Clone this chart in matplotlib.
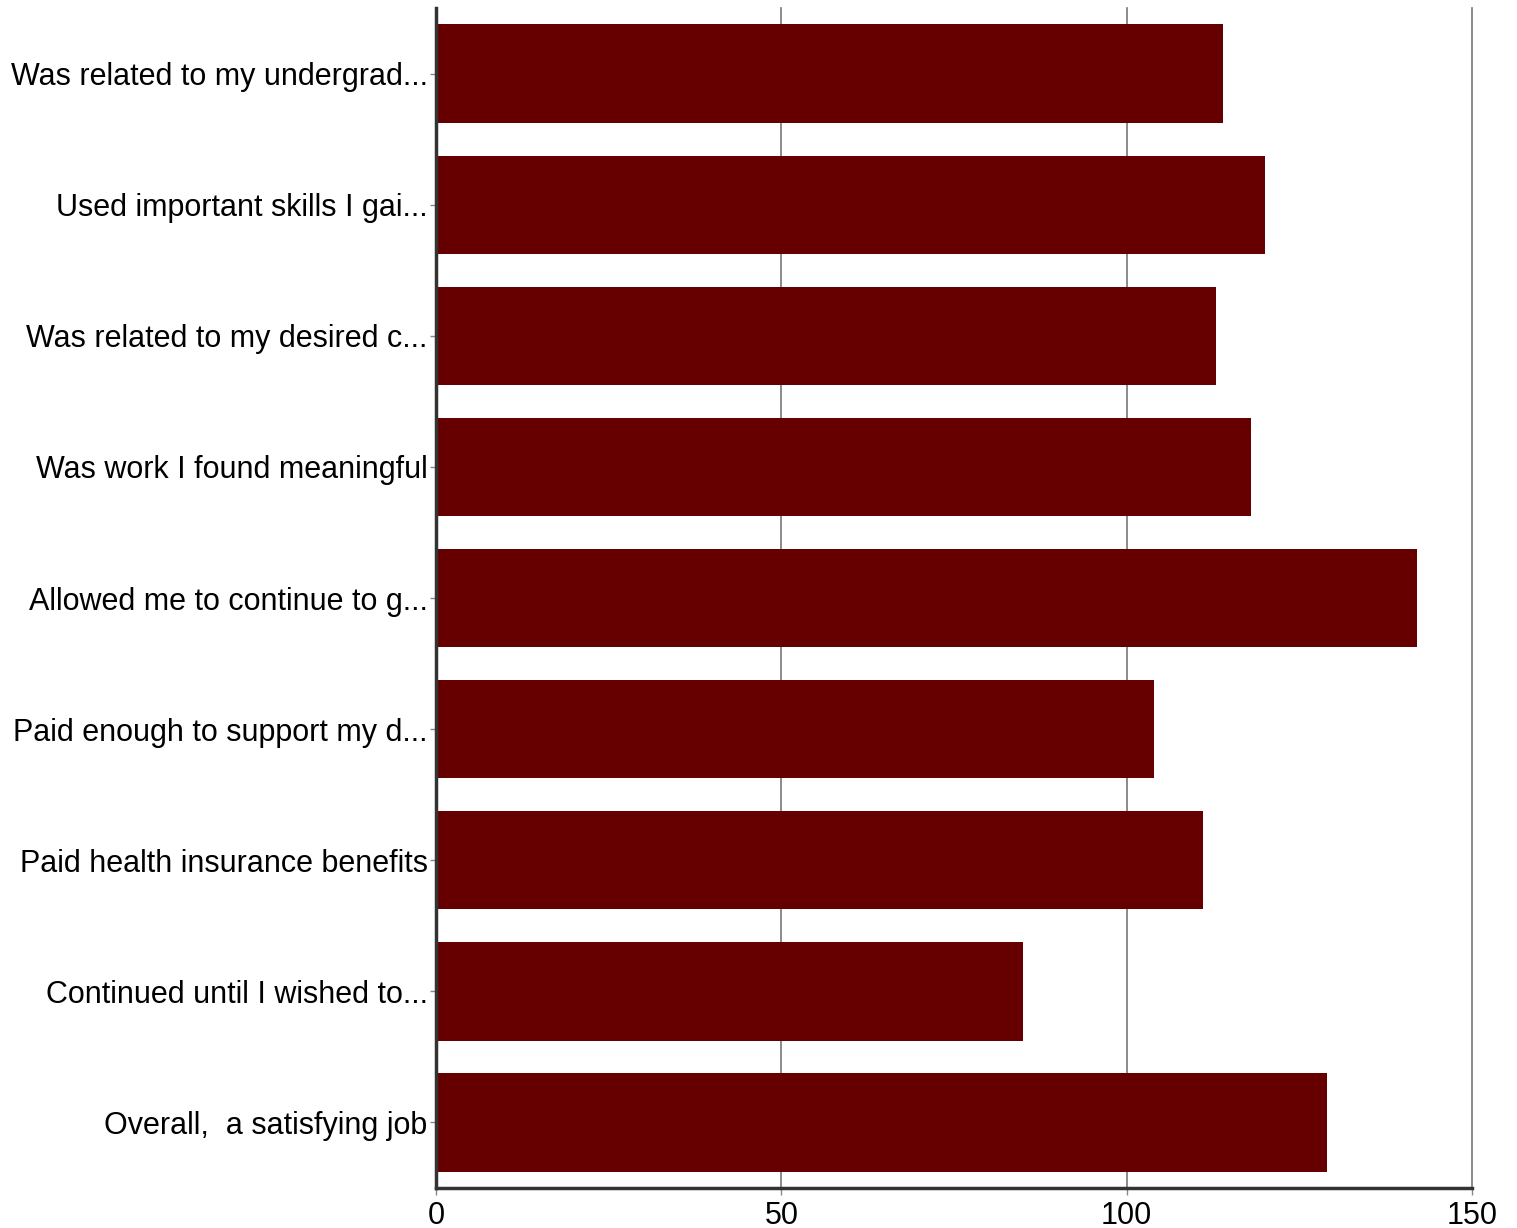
import matplotlib
matplotlib.use("Agg")
import matplotlib.pyplot as plt

categories = [
    "Was related to my undergrad...",
    "Used important skills I gai...",
    "Was related to my desired c...",
    "Was work I found meaningful",
    "Allowed me to continue to g...",
    "Paid enough to support my d...",
    "Paid health insurance benefits",
    "Continued until I wished to...",
    "Overall,  a satisfying job",
]
values = [114, 120, 113, 118, 142, 104, 111, 85, 129]
xticks = [0, 50, 100, 150]

plt.rcParams['font.family'] = ['Liberation Sans', 'DejaVu Sans']

fig = plt.figure(figsize=(15.17, 12.28), dpi=100)
ax = fig.add_axes([436/1517, 1 - 1188/1228, (1472-436)/1517, (1188-8)/1228])

y = list(range(len(categories)))
ax.barh(y, values, height=0.75, color="#660000", zorder=2)
ax.set_ylim(len(categories) - 0.5, -0.5)
ax.set_xlim(0, 150)
ax.set_yticks(y)
ax.set_yticklabels(categories, fontsize=22)
ax.set_xticks(xticks)
ax.set_xticklabels([str(t) for t in xticks], fontsize=22)

ax.grid(axis="x", color="#777777", linewidth=1.2, zorder=1)
for gl in ax.get_xgridlines():
    gl.set_clip_on(False)
ax.grid(axis="y", visible=False)
for s in ["top", "right"]:
    ax.spines[s].set_visible(False)
for s in ["left", "bottom"]:
    ax.spines[s].set_color("#333333")
    ax.spines[s].set_linewidth(2.5)
    ax.spines[s].set_zorder(3)
ax.tick_params(axis="y", length=4, width=1, color="#888888", pad=2)
ax.tick_params(axis="x", length=5, width=1, color="#888888", pad=4)

fig.savefig("out.png", dpi=100)
